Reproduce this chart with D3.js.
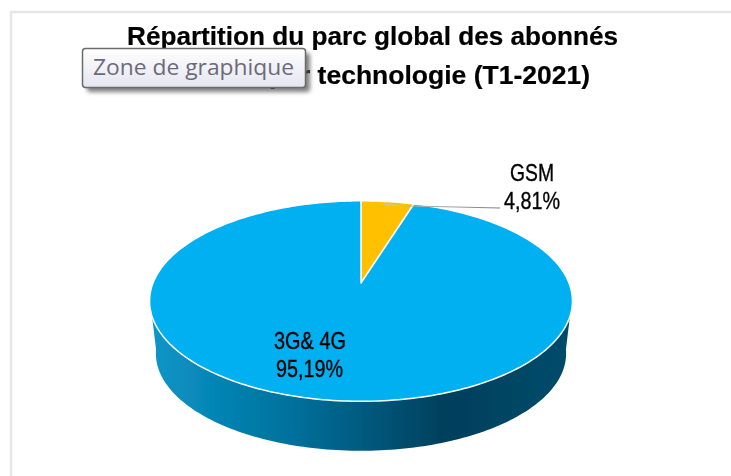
<!DOCTYPE html>
<html>
<head>
<meta charset="utf-8">
<script src="https://cdn.jsdelivr.net/npm/d3@7"></script>
<style>
  html, body { margin: 0; padding: 0; background: #fff; overflow: hidden; }
  text { font-family: "Liberation Sans", Arial, sans-serif; fill: #000; }
</style>
</head>
<body>
<div id="chart"></div>
<script>
var categories = ["GSM", "3G& 4G"];
var shares = [4.81, 95.19];
var shareLabels = ["4,81%", "95,19%"];
var colors = ["#FFC000", "#00B0F0"];
var titleLines = ["Répartition du parc global des abonnés", "par technologie (T1-2021)"];

var width = 731, height = 476;

var svg = d3.select("#chart").append("svg")
    .attr("width", width)
    .attr("height", height);

var defs = svg.append("defs");

var wallGrad = defs.append("linearGradient").attr("id", "wall")
    .attr("gradientUnits", "userSpaceOnUse")
    .attr("x1", 150).attr("x2", 573).attr("y1", 0).attr("y2", 0);
[[0, "#0a96c8"], [0.35, "#006f9a"], [0.7, "#003f5c"], [1, "#004c6b"]].forEach(function(s){
    wallGrad.append("stop").attr("offset", s[0]).attr("stop-color", s[1]);
});

var tipGrad = defs.append("linearGradient").attr("id", "tip")
    .attr("x1", 0).attr("x2", 0).attr("y1", 0).attr("y2", 1);
tipGrad.append("stop").attr("offset", 0).attr("stop-color", "#ffffff");
tipGrad.append("stop").attr("offset", 1).attr("stop-color", "#e4e5f0");

var leaderGrad = defs.append("linearGradient").attr("id", "leader")
    .attr("gradientUnits", "userSpaceOnUse")
    .attr("x1", 385).attr("x2", 500).attr("y1", 0).attr("y2", 0);
leaderGrad.append("stop").attr("offset", 0).attr("stop-color", "#c8c8c8");
leaderGrad.append("stop").attr("offset", 1).attr("stop-color", "#808080");

var soft = defs.append("filter").attr("id", "soft");
soft.append("feGaussianBlur").attr("stdDeviation", 0.45);

var shadow = defs.append("filter").attr("id", "shadow")
    .attr("x", "-5%").attr("y", "-20%").attr("width", "115%").attr("height", "150%");
shadow.append("feGaussianBlur").attr("stdDeviation", 2);

// chart area border, only left and top are in the frame
svg.append("path")
    .attr("d", "M11,476V12H731")
    .attr("fill", "none")
    .attr("stroke", "#e6e6e6")
    .attr("stroke-width", 2.5);

// the pie is tilted in perspective, so the centre sits above the middle of the ellipse
var cx = 361, cy = 283, k = 0.18, rxTop = 208, ryTop = 97;

function project(angle, r, scale, shift){
    var u = r * Math.sin(angle), v = r * Math.cos(angle), w = 1 + k * v;
    return [cx + rxTop * scale * u / w, cy + shift - ryTop * scale * v / w];
}

function arcPoints(a0, a1, scale, shift){
    var n = Math.max(2, Math.ceil(Math.abs(a1 - a0) / 0.02));
    return d3.range(n + 1).map(function(i){
        return project(a0 + (a1 - a0) * i / n, 1, scale, shift);
    });
}

var line = d3.line();
var rad = d3.scaleLinear().domain([0, 360]).range([0, 2 * Math.PI]);

var pieGroup = svg.append("g").attr("filter", "url(#soft)");

// side wall
var wallTop = arcPoints(rad(109), rad(251), 1, 0);
var wallBottom = arcPoints(rad(262), rad(98), 0.97, 53);
pieGroup.append("path")
    .attr("d", line(wallTop.concat(wallBottom)) + "Z")
    .attr("fill", "url(#wall)");

var pie = d3.pie().sort(null);
var slices = pie(shares);

pieGroup.selectAll(".slice")
    .data(slices).enter().append("path")
        .attr("class", "slice")
        .attr("d", function(d){
            return line([[cx, cy]].concat(arcPoints(d.startAngle, d.endAngle, 1, 0))) + "Z";
        })
        .attr("fill", function(d, i){ return colors[i]; })
        .attr("stroke", "#ffffff")
        .attr("stroke-width", 1.5)
        .attr("stroke-linejoin", "round");

// leader line of the small slice
svg.append("path")
    .attr("d", "M385,204.5L412,206L500,208")
    .attr("fill", "none")
    .attr("stroke", "url(#leader)")
    .attr("stroke-width", 1.2);

var text = svg.append("g").attr("filter", "url(#soft)");

function label(str, x, y, len, size, weight, anchor){
    text.append("text")
        .attr("x", x)
        .attr("y", y)
        .attr("text-anchor", anchor || "start")
        .attr("textLength", len)
        .attr("lengthAdjust", "spacingAndGlyphs")
        .attr("font-size", size)
        .attr("font-weight", weight)
        .attr("stroke", "#000")
        .attr("stroke-width", weight === "bold" ? 0.2 : 0.35)
        .text(str);
}

// second title line is centred in the source, its start is hidden under the tooltip
label(titleLines[0], 127, 45, 491, 26, "bold");
label(titleLines[1], 590, 84, 321, 26, "bold", "end");

label(categories[0], 510, 181, 44, 24, "normal");
label(shareLabels[0], 504, 209, 56, 24, "normal");
label(categories[1], 274, 349, 72, 24, "normal");
label(shareLabels[1], 276, 377, 67, 24, "normal");

// hover tooltip lying over the title
var tip = svg.append("g");
tip.append("rect")
    .attr("x", 87).attr("y", 53).attr("width", 223).attr("height", 39)
    .attr("rx", 3)
    .attr("fill", "#555")
    .attr("opacity", 0.75)
    .attr("filter", "url(#shadow)");
tip.append("rect")
    .attr("x", 82.5).attr("y", 48.5).attr("width", 223).attr("height", 39)
    .attr("rx", 3)
    .attr("fill", "url(#tip)")
    .attr("stroke", "#6b6b6b")
    .attr("stroke-width", 1.5);
tip.append("text")
    .attr("x", 93).attr("y", 75)
    .attr("textLength", 201)
    .attr("lengthAdjust", "spacingAndGlyphs")
    .attr("font-size", 21)
    .style("font-family", "'Open Sans', 'Noto Sans', sans-serif")
    .style("fill", "#6c6a78")
    .text("Zone de graphique");
</script>
</body>
</html>
